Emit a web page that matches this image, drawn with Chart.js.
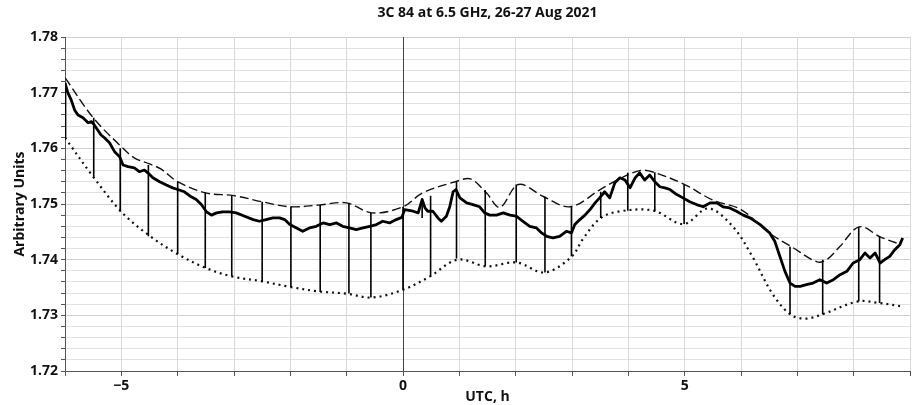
<!DOCTYPE html>
<html>
<head>
<meta charset="utf-8">
<title>3C 84 at 6.5 GHz</title>
<script src="https://cdn.jsdelivr.net/npm/chart.js@4.4.1/dist/chart.umd.min.js"></script>
<style>
  body { margin: 0; background: #fff; }
  #wrap { width: 912px; height: 405px; position: relative; }
</style>
</head>
<body>
<div id="wrap"><canvas id="fluxChart"></canvas></div>
<script>
// Measured signal (UTC hours, arbitrary units)
let timeHours = [-6.0, -5.95, -5.89, -5.83, -5.77, -5.68, -5.59, -5.53, -5.48, -5.36, -5.30, -5.21, -5.12, -5.03,
  -4.97, -4.88, -4.77, -4.68, -4.59, -4.53, -4.44, -4.32, -4.20, -4.09, -4.0, -3.88, -3.76, -3.67, -3.58, -3.49,
  -3.40, -3.31, -3.20, -3.08, -2.96, -2.81, -2.66, -2.55, -2.43, -2.31, -2.19, -2.10, -2.01, -1.89, -1.78, -1.66,
  -1.54, -1.42, -1.30, -1.18, -1.07, -0.95, -0.83, -0.71, -0.59, -0.47, -0.36, -0.24, -0.12, -0.02, 0.03, 0.18,
  0.27, 0.34, 0.39, 0.44, 0.53, 0.62, 0.68, 0.77, 0.83, 0.89, 0.94, 1.01, 1.13, 1.24, 1.36, 1.45, 1.54, 1.66,
  1.78, 1.90, 2.01, 2.13, 2.25, 2.37, 2.46, 2.55, 2.66, 2.78, 2.90, 2.99, 3.05, 3.14, 3.23, 3.32, 3.41, 3.49,
  3.58, 3.67, 3.76, 3.85, 3.94, 4.03, 4.12, 4.20, 4.29, 4.38, 4.47, 4.56, 4.65, 4.74, 4.86, 4.97, 5.09, 5.21,
  5.33, 5.45, 5.57, 5.68, 5.80, 5.92, 6.04, 6.16, 6.34, 6.51, 6.60, 6.69, 6.78, 6.87, 6.96, 7.05, 7.16, 7.28,
  7.40, 7.52, 7.64, 7.76, 7.88, 7.99, 8.11, 8.20, 8.29, 8.38, 8.47, 8.55, 8.64, 8.73, 8.82, 8.87];
let signal = [1.7717, 1.7700, 1.7687, 1.7669, 1.7660, 1.7655, 1.7646, 1.7648, 1.7642, 1.7624, 1.7619, 1.7610, 1.7594, 1.7585,
  1.7570, 1.7567, 1.7565, 1.7558, 1.7561, 1.7556, 1.7547, 1.7540, 1.7534, 1.7529, 1.7526, 1.7522, 1.7513, 1.7508, 1.7499, 1.7486,
  1.7480, 1.7484, 1.7486, 1.7486, 1.7484, 1.7478, 1.7472, 1.7469, 1.7472, 1.7475, 1.7475, 1.7472, 1.7463, 1.7457, 1.7451, 1.7457,
  1.7460, 1.7466, 1.7463, 1.7466, 1.7460, 1.7457, 1.7454, 1.7457, 1.7460, 1.7463, 1.7469, 1.7466, 1.7472, 1.7476, 1.7490, 1.7487,
  1.7484, 1.7508, 1.7493, 1.7487, 1.7487, 1.7475, 1.7469, 1.7478, 1.7495, 1.7522, 1.7526, 1.7511, 1.7502, 1.7499, 1.7495, 1.7484, 1.7480, 1.7480,
  1.7484, 1.7480, 1.7478, 1.7469, 1.7460, 1.7457, 1.7448, 1.7442, 1.7439, 1.7442, 1.7451, 1.7448, 1.7463, 1.7472, 1.7480, 1.7490, 1.7502, 1.7511,
  1.7522, 1.7511, 1.7538, 1.7547, 1.7543, 1.7529, 1.7547, 1.7556, 1.7543, 1.7552, 1.7540, 1.7531, 1.7529, 1.7526, 1.7517, 1.7511, 1.7504, 1.7499,
  1.7495, 1.7502, 1.7502, 1.7495, 1.7493, 1.7487, 1.7480, 1.7475, 1.7463, 1.7448, 1.7433, 1.7406, 1.7379, 1.7358, 1.7352, 1.7352, 1.7355, 1.7358,
  1.7364, 1.7358, 1.7364, 1.7373, 1.7379, 1.7394, 1.7400, 1.7412, 1.7403, 1.7412, 1.7394, 1.7400, 1.7406, 1.7418, 1.7427, 1.7439];

// Upper (dashed) envelope
let upperHours = [-6.0, -5.5, -5.0, -4.77, -4.5, -4.3, -4.0, -3.5, -3.0, -2.5, -2.0, -1.5, -1.0, -0.55, 0.0, 0.35, 0.93, 1.2, 1.48,
  1.72, 2.05, 2.5, 2.97, 3.5, 3.8, 4.2, 4.45, 5.0, 5.5, 6.0, 6.5, 6.9, 7.35, 7.52, 7.75, 8.1, 8.47, 8.84];
let upperValues = [1.7727, 1.7655, 1.7603, 1.7583, 1.7572, 1.7563, 1.7540, 1.7520, 1.7515, 1.7504, 1.7495, 1.7498, 1.7502, 1.7484, 1.7495, 1.7520, 1.7540, 1.7545, 1.7520,
  1.7494, 1.7535, 1.7513, 1.7495, 1.7526, 1.7543, 1.7560, 1.7557, 1.7535, 1.7507, 1.7490, 1.7448, 1.7423, 1.7396, 1.7400, 1.7423, 1.7459, 1.7441, 1.7427];

// Lower (dotted) envelope
let lowerHours = [-6.0, -5.5, -5.0, -4.5, -4.0, -3.5, -3.04, -2.5, -2.0, -1.5, -1.0, -0.55, 0.0, 0.48, 0.97, 1.48, 2.02, 2.51, 2.98,
  3.2, 3.5, 3.85, 4.45, 4.98, 5.42, 5.85, 6.2, 6.55, 6.87, 7.14, 7.45, 8.08, 8.46, 8.87];
let lowerValues = [1.7619, 1.7549, 1.7486, 1.7443, 1.7410, 1.7385, 1.7370, 1.7361, 1.7351, 1.7343, 1.7339, 1.7332, 1.7346, 1.7370, 1.7400, 1.7388, 1.7395, 1.7377, 1.7404,
  1.7438, 1.7474, 1.7487, 1.7488, 1.7464, 1.7492, 1.7460, 1.7406, 1.7340, 1.7302, 1.7294, 1.7302, 1.7325, 1.7322, 1.7316];

// Calibration drops (vertical strokes from upper to lower curve)
let spikeHours = [-5.99, -5.49, -5.02, -4.52, -4.0, -3.51, -3.04, -2.5, -1.99, -1.47, -0.96, -0.57, 0.0, 0.34, 0.49,
  0.95, 1.46, 2.01, 2.52, 2.99, 3.51, 3.99, 4.47, 4.99, 6.87, 7.45, 8.09, 8.46];
let spikeTop = [1.7718, 1.7655, 1.7600, 1.7570, 1.7540, 1.7520, 1.7515, 1.7504, 1.7495, 1.7498, 1.7502, 1.7484, 1.7495, 1.7510, 1.7515,
  1.7540, 1.7525, 1.7535, 1.7513, 1.7497, 1.7522, 1.7556, 1.7557, 1.7535, 1.7423, 1.7400, 1.7459, 1.7441];
let spikeBottom = [1.7619, 1.7549, 1.7486, 1.7442, 1.7410, 1.7385, 1.7370, 1.7361, 1.7351, 1.7342, 1.7339, 1.7332, 1.7346, 1.7475, 1.7370,
  1.7402, 1.7388, 1.7395, 1.7377, 1.7406, 1.7475, 1.7488, 1.7487, 1.7464, 1.7302, 1.7302, 1.7325, 1.7322];

// x tick labels shown (every hour gets a tick mark)
let xLabelled = [-5, 0, 5];

function toPoints(xs, ys) {
  return xs.map((x, i) => ({ x: x, y: ys[i] }));
}

// vertical strokes separated by null gaps
function spikePoints() {
  let pts = [];
  for (let i = 0; i < spikeHours.length; i++) {
    pts.push({ x: spikeHours[i], y: spikeTop[i] });
    pts.push({ x: spikeHours[i], y: spikeBottom[i] });
    pts.push({ x: spikeHours[i], y: null });
  }
  return pts;
}

const fontFamily = "'Open Sans', 'DejaVu Sans', sans-serif";
const labelFont = { family: fontFamily, size: 14, weight: 'bold' };

function isMajorY(v) {
  return Math.abs(v * 100 - Math.round(v * 100)) < 1e-6;
}

var myChart;
function createChart() {
  const ctx = document.getElementById('fluxChart');
  myChart = new Chart(ctx, {
    type: 'scatter',
    data: {
      datasets: [
        {
          label: 'drops',
          data: spikePoints(),
          showLine: true,
          spanGaps: false,
          borderColor: '#000',
          borderWidth: 1.6,
          pointRadius: 0
        },
        {
          label: 'upper',
          data: toPoints(upperHours, upperValues),
          showLine: true,
          borderColor: '#111',
          borderWidth: 1.4,
          borderDash: [9, 4],
          tension: 0.35,
          pointRadius: 0
        },
        {
          label: 'lower',
          data: toPoints(lowerHours, lowerValues),
          showLine: true,
          borderColor: '#111',
          borderWidth: 2.2,
          borderDash: [2, 4],
          tension: 0.35,
          pointRadius: 0
        },
        {
          label: 'signal',
          data: toPoints(timeHours, signal),
          showLine: true,
          borderColor: '#000',
          borderWidth: 2.8,
          borderJoinStyle: 'round',
          pointRadius: 0
        }
      ]
    },
    options: {
      responsive: true,
      maintainAspectRatio: false,
      animation: false,
      events: [],
      layout: { padding: { left: 0, right: 2, top: 0, bottom: 0 } },
      plugins: {
        legend: { display: false },
        tooltip: { enabled: false },
        title: {
          display: true,
          fullSize: false,
          text: '3C 84 at 6.5 GHz, 26-27 Aug 2021',
          color: '#111',
          font: labelFont,
          padding: { top: 5, bottom: 15.2 }
        }
      },
      scales: {
        x: {
          type: 'linear',
          min: -6,
          max: 9,
          afterFit: (scale) => { scale.height = 34; },
          border: { display: true, color: '#555', width: 1 },
          grid: {
            z: -1,
            color: (c) => (c.tick && c.tick.value === 0 ? '#444' : '#d9d9d9'),
            lineWidth: 1,
            tickColor: '#555',
            tickLength: 5
          },
          ticks: {
            stepSize: 1,
            autoSkip: false,
            maxRotation: 0,
            padding: 2,
            color: '#111',
            font: labelFont,
            callback: (v) => (xLabelled.includes(v) ? (v < 0 ? '\u2212' + Math.abs(v) : String(v)) : '')
          },
          title: {
            display: true,
            text: 'UTC, h',
            color: '#111',
            font: labelFont,
            padding: { top: 0, bottom: 0 }
          }
        },
        y: {
          min: 1.72,
          max: 1.78,
          afterFit: (scale) => { scale.width = 65; },
          border: { display: true, color: '#555', width: 1 },
          grid: {
            // horizontal grid goes under the vertical one so the x = 0 line stays solid
            z: -2,
            color: (c) => (c.tick && isMajorY(c.tick.value) ? '#cfcfcf' : '#e2e2e2'),
            lineWidth: 1,
            tickColor: '#555',
            tickLength: 4
          },
          ticks: {
            stepSize: 0.002,
            maxTicksLimit: 100,
            autoSkip: false,
            padding: 3,
            color: '#111',
            font: labelFont,
            callback: (v) => (isMajorY(v) ? v.toFixed(2) : '')
          },
          title: {
            display: true,
            text: 'Arbitrary Units',
            color: '#111',
            font: labelFont,
            padding: { top: 12, bottom: 0 }
          }
        }
      }
    }
  });
}

createChart();
</script>
</body>
</html>
